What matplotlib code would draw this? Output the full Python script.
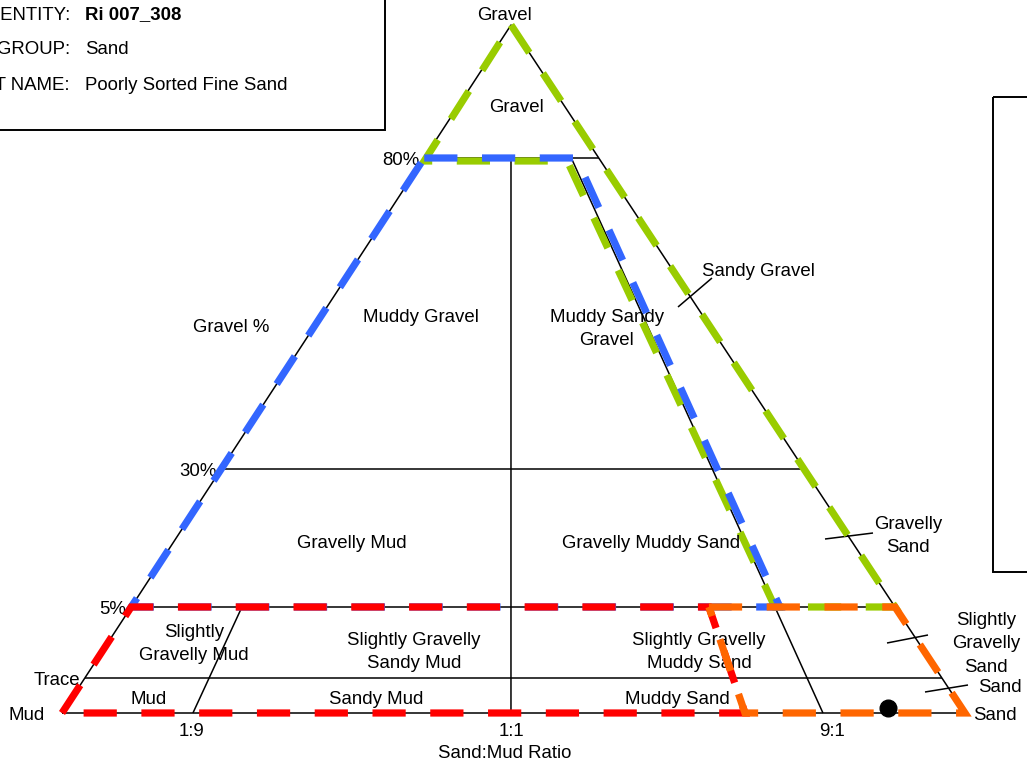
import numpy as np
import matplotlib
matplotlib.use("Agg")
import matplotlib.pyplot as plt
from matplotlib.patches import Rectangle

plt.rcParams['font.family'] = ['Liberation Sans', 'DejaVu Sans']

# ---- class boundaries of the gravel-sand-mud triangle -------------------
gravel_levels = [0.0, 0.01, 5.0, 30.0, 80.0, 100.0]          # gravel %
gravel_level_labels = ["Trace", "5%", "30%", "80%"]
ratio_levels = [0.0, 0.1, 0.5, 0.9, 1.0]                     # sand / (sand + mud)
ratio_labels = ["1:9", "1:1", "9:1"]
group_split_ratio = 0.8                                      # mud group / sand group

# ---- sample ---------------------------------------------------------------
sample_id = "Ri 007_308"
textural_group = "Sand"
sediment_name = "Poorly Sorted Fine Sand"
sample_gravel = 0.0014
sample_sand = 94.79
sample_mud = 5.21

# ---- region names ---------------------------------------------------------
region_names = [
    "Gravel", "Sandy Gravel", "Muddy Gravel", "Muddy Sandy\nGravel",
    "Gravelly Mud", "Gravelly Muddy Sand", "Gravelly\nSand",
    "Slightly\nGravelly Mud", "Slightly Gravelly\nSandy Mud",
    "Slightly Gravelly\nMuddy Sand", "Slightly\nGravelly\nSand",
    "Mud", "Sandy Mud", "Muddy Sand", "Sand",
]
region_label_xy = [
    (517, 108), (758, 272), (421, 317), (607, 329),
    (352, 543), (651, 543), (908, 536),
    (194, 644), (414, 652),
    (699, 652), (986, 644),
    (149, 699), (376, 699), (677, 699), (1000, 687),
]

# ---- drawing scale (pixel space, non-linear axes) --------------------------
X_MUD, X_SAND, Y_BASE = 62, 965, 713
X_APEX, Y_APEX = 511, 25
GRAVEL_HEIGHT = [0.0, 0.0509, 0.1541, 0.3547, 0.8067, 1.0]
RATIO_POS = [0.0, 0.145, 0.4972, 0.8427, 1.0]


def to_xy(g, r):
    h = np.interp(g, gravel_levels, GRAVEL_HEIGHT)
    p = np.interp(r, ratio_levels, RATIO_POS)
    xb = X_MUD + p * (X_SAND - X_MUD)
    return xb + h * (X_APEX - xb), Y_BASE + h * (Y_APEX - Y_BASE)


def seg(ax, a, b, **kw):
    (x0, y0), (x1, y1) = to_xy(*a), to_xy(*b)
    ax.plot([x0, x1], [y0, y1], **kw)


fig = plt.figure(figsize=(10.27, 7.69), dpi=100)
ax = fig.add_axes([0, 0, 1, 1])
ax.set_xlim(0, 1027)
ax.set_ylim(769, 0)
ax.axis("off")

FS = 13.4
blk = dict(color="black", lw=1.1, solid_capstyle="butt", zorder=2)

# triangle outline
outline = [(0, 0), (0, 1), (100, 0.5), (0, 0)]
ox, oy = zip(*[to_xy(*v) for v in outline])
ax.plot(ox, oy, **blk)

# gravel boundaries
for g in gravel_levels[1:5]:
    seg(ax, (g, 0), (g, 1), **blk)
# sand:mud boundaries
seg(ax, (0, 0.1), (5, 0.1), **blk)
seg(ax, (0, 0.5), (80, 0.5), **blk)
seg(ax, (0, 0.9), (80, 0.9), **blk)

# leader ticks
for (x0, y0), (x1, y1) in [((678, 307), (712, 278)), ((825, 539), (873, 533)),
                           ((887, 643), (928, 635)), ((925, 692), (968, 685))]:
    ax.plot([x0, x1], [y0, y1], **blk)

# textural group outlines (vertex, pixel nudge)
groups = [
    ("#99cc00", [((100, 0.5), (0, 0)), ((5, 1), (0, 0)), ((5, 0.9), (0, 0)),
                 ((80, 0.9), (-4, 3)), ((80, 0), (0, 3))]),
    ("#3366ff", [((80, 0), (0, 0)), ((80, 0.9), (5, 0)), ((5, 0.9), (5, 0)),
                 ((5, 0), (0, 0))]),
    ("#ff0000", [((0, 0), (0, 0)), ((5, 0), (0, 0)), ((5, group_split_ratio), (0, 0)),
                 ((0, group_split_ratio), (0, 0))]),
    ("#ff6600", [((5, group_split_ratio), (0, 0)), ((5, 1), (0, 0)), ((0, 1), (0, 0)),
                 ((0, group_split_ratio), (0, 0))]),
]
for i, (col, verts) in enumerate(groups):
    pts = []
    for (g, r), (dx, dy) in verts:
        x, y = to_xy(g, r)
        pts.append((x + dx, y + dy))
    pts.append(pts[0])
    px, py = zip(*pts)
    ax.plot(px, py, color=col, lw=5.2, linestyle=(0, (4.6, 3.4)),
            dash_capstyle="butt", dash_joinstyle="miter", zorder=3 + i)

# sample point
ratio = sample_sand / (sample_sand + sample_mud)
sx, sy = to_xy(sample_gravel, ratio)
ax.plot([sx], [sy], "o", color="black", ms=12, zorder=10)

# region labels
for name, (x, y) in zip(region_names, region_label_xy):
    ax.text(x, y, name, fontsize=FS, ha="center", va="center", linespacing=1.5)

# vertex labels
ax.text(505, 15, "Gravel", fontsize=FS, ha="center", va="center")
ax.text(27, 715, "Mud", fontsize=FS, ha="center", va="center")
ax.text(995, 715, "Sand", fontsize=FS, ha="center", va="center")

# gravel axis labels
for g, lab in zip(gravel_levels[1:5], gravel_level_labels):
    x, y = to_xy(g, 0)
    ax.text(x - 5, y + 3, lab, fontsize=FS, ha="right", va="center")
ax.text(231, 327, "Gravel %", fontsize=FS, ha="center", va="center")

# ratio axis labels
for r, lab, dx in zip(ratio_levels[1:4], ratio_labels, [-1, 0, 9]):
    x, y = to_xy(0, r)
    ax.text(x + dx, y + 18, lab, fontsize=FS, ha="center", va="center")
ax.text(505, 753, "Sand:Mud Ratio", fontsize=FS, ha="center", va="center")

# sample info box
ax.add_patch(Rectangle((-20, -20), 405, 150, fill=False, ec="black", lw=1.4, zorder=1))
for y, lab, val, bold in [(15, "SAMPLE IDENTITY:", sample_id, True),
                          (50, "TEXTURAL GROUP:", textural_group, False),
                          (86, "SEDIMENT NAME:", sediment_name, False)]:
    ax.text(70, y, lab, fontsize=FS, ha="right", va="center")
    ax.text(85, y, val, fontsize=FS, ha="left", va="center",
            fontweight="bold" if bold else "normal")

# legend frame
ax.add_patch(Rectangle((993, 97), 100, 475, fill=False, ec="black", lw=1.4, zorder=1))

fig.savefig("out.png", dpi=100)
